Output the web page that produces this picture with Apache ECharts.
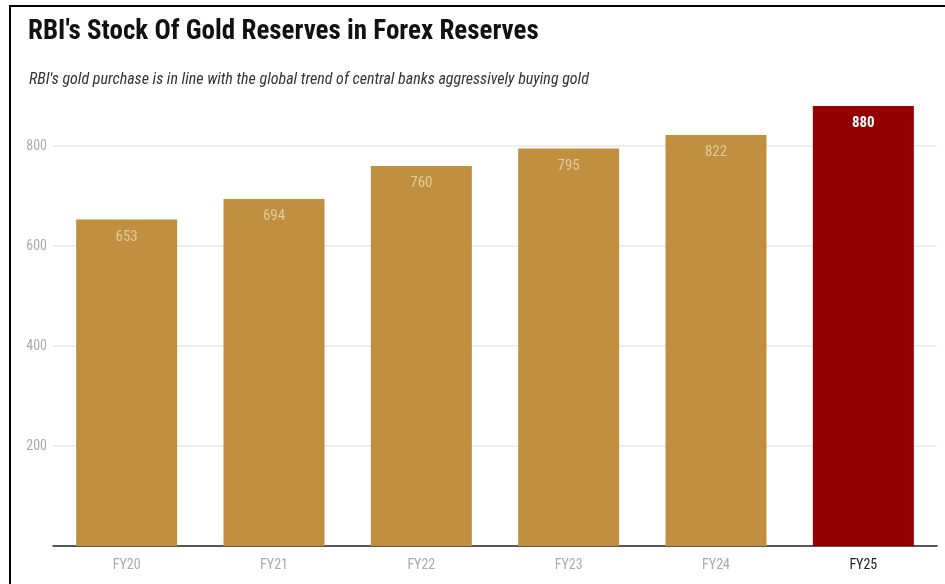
<!DOCTYPE html>
<html>
<head>
<meta charset="utf-8">
<script src="https://cdn.jsdelivr.net/npm/echarts@6/dist/echarts.min.js"></script>
<style>
html,body{margin:0;padding:0;background:#fff;overflow:hidden;}
#frame{position:absolute;left:9px;top:5px;width:960px;height:600px;border-left:2.5px solid #000;border-top:2px solid #000;}
#chart{position:absolute;left:0;top:0;width:945px;height:584px;}
</style>
</head>
<body>
<div id="frame"></div>
<div id="chart"></div>
<script>
var categories = ['FY20','FY21','FY22','FY23','FY24','FY25'];
var values = [653, 694, 760, 795, 822, 880];
var yTicks = [200, 400, 600, 800];
var titleText = "RBI's Stock Of Gold Reserves in Forex Reserves";
var subtitleText = "RBI's gold purchase is in line with the global trend of central banks aggressively buying gold";

var GOLD = '#C09040', RED = '#930000';
var FONT = "'Liberation Sans Narrow', 'Roboto Condensed', Roboto, sans-serif";
var chart = echarts.init(document.getElementById('chart'));
var last = categories.length - 1;
chart.setOption({
  animation: false,
  textStyle: {fontFamily: FONT},
  title: [{
    text: titleText, left: 23, top: 14,
    textStyle: {fontFamily: FONT, fontSize: 27, fontWeight: 'bold', color: '#111'}
  },{
    text: subtitleText, left: 24, top: 67,
    textStyle: {fontFamily: FONT, fontSize: 16, fontStyle: 'italic', fontWeight: 'normal', color: '#333'}
  }],
  grid: {left: 53, right: 8, top: 46, bottom: 38, containLabel: false},
  xAxis: {
    type: 'category', data: categories,
    axisLine: {lineStyle: {color: '#222', width: 1.5}},
    axisTick: {show: false},
    axisLabel: {
      margin: 12, fontSize: 14, fontFamily: FONT,
      formatter: function(v){ return v === categories[last] ? '{d|' + v + '}' : '{g|' + v + '}'; },
      rich: {g: {color: '#aaa', fontSize: 14, fontFamily: FONT}, d: {color: '#222', fontSize: 14, fontFamily: FONT}}
    }
  },
  yAxis: {
    type: 'value', min: 0, max: 1000, interval: 200,
    axisLine: {show: false}, axisTick: {show: false},
    axisLabel: {
      margin: 6, fontSize: 14, color: '#aaa', fontFamily: FONT,
      formatter: function(v){ return yTicks.indexOf(v) >= 0 ? String(v) : ''; }
    },
    splitLine: {show: false}
  },
  series: [{
    type: 'bar', data: [], z: 0, silent: true,
    markLine: {
      silent: true, z: 0, symbol: ['none', 'none'], label: {show: false},
      lineStyle: {color: '#e8e8e8', width: 1.5, type: 'solid'},
      emphasis: {disabled: true},
      data: yTicks.map(function(t){ return {yAxis: t}; })
    }
  },{
    type: 'bar', barWidth: 101, z: 3, barGap: '-100%',
    data: values.map(function(v, i){
      return {
        value: v,
        itemStyle: {color: i === last ? RED : GOLD},
        label: i === last ? {color: '#fff', fontWeight: 'bold'} : {}
      };
    }),
    label: {
      show: true, position: 'insideTop', distance: 10,
      fontSize: 15, color: '#e0cb9c', fontFamily: FONT
    }
  }]
});
</script>
</body>
</html>
